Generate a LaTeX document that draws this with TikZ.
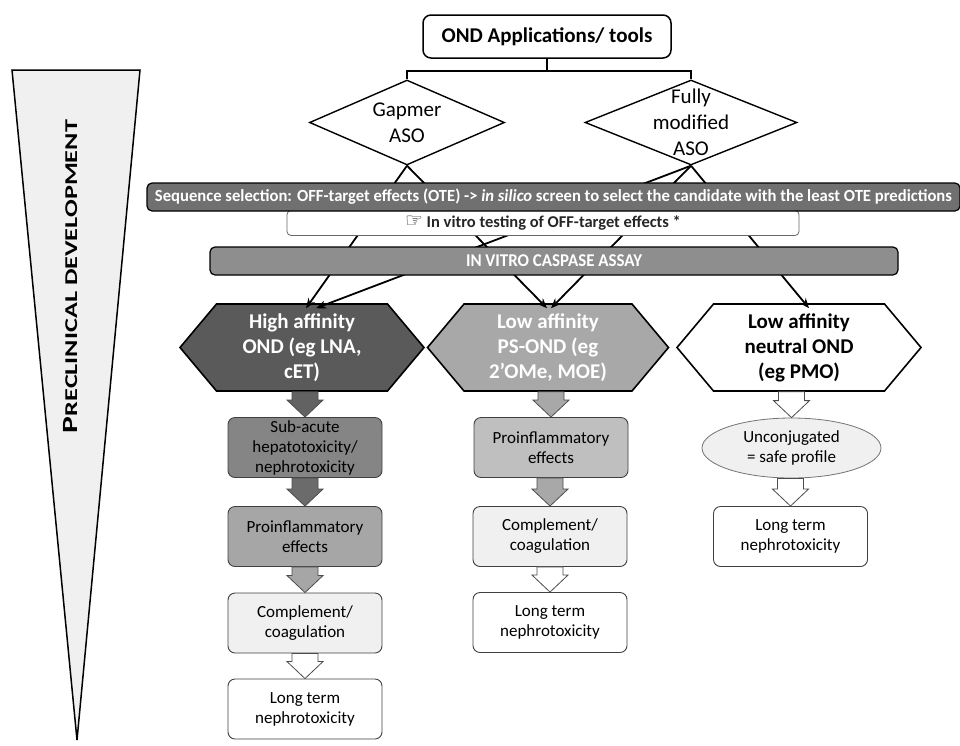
\documentclass[tikz,border=0pt]{standalone}
\usepackage{fontspec}
\setmainfont{Carlito}
\newfontfamily\handfont{DejaVu Sans}
\usetikzlibrary{shapes.geometric,shapes.symbols,arrows.meta,calc}

\definecolor{seqgrey}{HTML}{707070}
\definecolor{assaygrey}{HTML}{8E8E8E}
\definecolor{highgrey}{HTML}{5A5A5A}
\definecolor{lowgrey}{HTML}{A8A8A8}
\definecolor{subgrey}{HTML}{858585}
\definecolor{infgrey}{HTML}{A6A6A6}
\definecolor{inflgrey}{HTML}{BFBFBF}
\definecolor{compgrey}{HTML}{F0F0F0}

\tikzset{
  stepbox/.style={draw=black!75, rounded corners=7pt, line width=0.9pt,
    minimum width=154pt, minimum height=60pt, align=center, inner sep=0pt,
    font=\fontsize{17}{20}\selectfont},
  hexbox/.style={signal, signal to=east and west, signal pointer angle=100,
    draw, line width=1.6pt, minimum width=244pt, minimum height=87pt,
    align=center, inner sep=0pt, font=\bfseries\fontsize{21}{25}\selectfont},
  asobox/.style={diamond, draw, line width=1.4pt, minimum height=85pt, inner sep=0pt},
  bar/.style={draw, rounded corners=5pt, line width=1.2pt, minimum height=28pt,
    inner sep=0pt, text=white, font=\bfseries\fontsize{17}{20}\selectfont},
  link/.style={line width=1.8pt, -{Stealth[length=10pt,width=8pt]}},
}

% block arrow between two nodes, drawn at the x of the lower one
\newcommand{\fatarrow}[3]{%
  \path[draw=black!70, line width=0.8pt, fill=#3] let \p1=(#1), \p2=(#2) in
    (\x2-13pt,\y1) -- (\x2+13pt,\y1) -- (\x2+13pt,\y2+17pt) -- (\x2+18pt,\y2+17pt)
    -- (\x2,\y2) -- (\x2-18pt,\y2+17pt) -- (\x2-13pt,\y2+17pt) -- cycle;}

\begin{document}
\begin{tikzpicture}[x=1pt,y=-1pt]
  \useasboundingbox (0,0) rectangle (960,745);

  % development wedge
  \draw[fill=compgrey, line width=1.5pt] (12,70) -- (140,70) -- (77,740) -- cycle;
  \node[rotate=90, anchor=base, font=\bfseries] (phase) at (77,276.5)
    {\resizebox{313pt}{\height}{{\fontsize{21.7}{22}\selectfont P}\fontsize{18}{20}\selectfont RECLINICAL DEVELOPMENT}};

  \node[draw, rounded corners=8pt, line width=1.5pt, minimum width=248pt,
    minimum height=43pt, font=\bfseries\fontsize{21}{24}\selectfont] (apps) at (547,36.5)
    {OND Applications/ tools};

  \begin{scope}[every label/.style={align=center, font=\fontsize{21}{26}\selectfont}]
    \node[asobox, minimum width=195pt, label={center:Gapmer\\ASO}] (gapmer) at (407,122.5) {};
    \node[asobox, minimum width=212pt, label={center:Fully\\modified\\ASO}] (fully) at (691,122.5) {};
  \end{scope}

  \coordinate (bus) at (547,71);
  \draw[line width=1.5pt] (apps.south) -- (bus);
  \draw[line width=1.5pt] (gapmer.north) |- (bus) -| (fully.north);

  \node[hexbox, fill=highgrey, text=white] (high) at (302,347.5)
    {High affinity\\OND (eg LNA,\\cET)};
  \node[hexbox, minimum width=241pt, fill=lowgrey, text=white] (low) at (548,347.5)
    {Low affinity\\PS-OND (eg\\2’OMe, MOE)};
  \node[hexbox, fill=white] (neutral) at (799,347.5)
    {Low affinity\\neutral OND\\(eg PMO)};

  \begin{scope}[every edge/.style={draw, link}]
    \path (gapmer.south) edge ([xshift=4pt,yshift=-5pt]high.north);
    \path (gapmer.south) edge ([xshift=-1pt,yshift=-5pt]low.north);
    \path (fully.south) edge ([xshift=14pt,yshift=-5pt]high.north);
    \path (fully.south) edge ([xshift=3pt,yshift=-5pt]low.north);
    \path (fully.south) edge ([xshift=10pt,yshift=-5pt]neutral.north);
  \end{scope}

  \node[draw=black!60, fill=white, rounded corners=4pt, line width=0.8pt,
    minimum width=512pt, minimum height=25pt, inner sep=0pt, text=black!85,
    font=\bfseries\fontsize{16.5}{18}\selectfont] (vitro) at (543,223)
    {{\handfont\mdseries\fontsize{20}{20}\selectfont ☞}\ In vitro testing of OFF-target effects *};
  \node[bar, fill=assaygrey, minimum width=688pt] (caspase) at (554,261)
    {\resizebox{176pt}{\height}{\fontsize{18}{20}\selectfont IN VITRO CASPASE ASSAY}};
  \node[bar, fill=seqgrey, minimum width=813pt] (ote) at (553.5,197)
    {\resizebox{797pt}{\height}{Sequence selection: OFF-target effects (OTE) -> \textit{in silico} screen to select the candidate with the least OTE predictions}};

  % high affinity column
  \node[stepbox, fill=subgrey] (sub) at (305,447.5) {Sub-acute\\hepatotoxicity/\\nephrotoxicity};
  \node[stepbox, fill=infgrey] (infl1) at (305,536.5) {Proinflammatory\\effects};
  \node[stepbox, fill=compgrey] (comp1) at (305,623) {Complement/\\coagulation};
  \node[stepbox, fill=white] (long1) at (305,709) {Long term\\nephrotoxicity};

  % low affinity PS column
  \node[stepbox, fill=inflgrey] (infl2) at (551,447.5) {Proinflammatory\\effects};
  \node[stepbox, fill=compgrey] (comp2) at (550,536.5) {Complement/\\coagulation};
  \node[stepbox, fill=white] (long2) at (550,622.5) {Long term\\nephrotoxicity};

  % neutral column
  \node[ellipse, draw=black!55, line width=0.8pt, fill=compgrey, minimum width=179pt,
    minimum height=60pt, inner sep=0pt, align=center,
    font=\fontsize{17}{20}\selectfont] (safe) at (791.5,448) {Unconjugated\\= safe profile};
  \node[stepbox, fill=white] (long3) at (790.5,536.5) {Long term\\nephrotoxicity};

  \fatarrow{high.south}{sub.north}{highgrey!95}
  \fatarrow{sub.south}{infl1.north}{highgrey!90}
  \fatarrow{infl1.south}{comp1.north}{infgrey}
  \fatarrow{comp1.south}{long1.north}{white}
  \fatarrow{low.south}{infl2.north}{lowgrey}
  \fatarrow{infl2.south}{comp2.north}{lowgrey}
  \fatarrow{comp2.south}{long2.north}{white}
  \fatarrow{neutral.south}{safe.north}{white}
  \fatarrow{safe.south}{long3.north}{white}

\end{tikzpicture}
\end{document}
